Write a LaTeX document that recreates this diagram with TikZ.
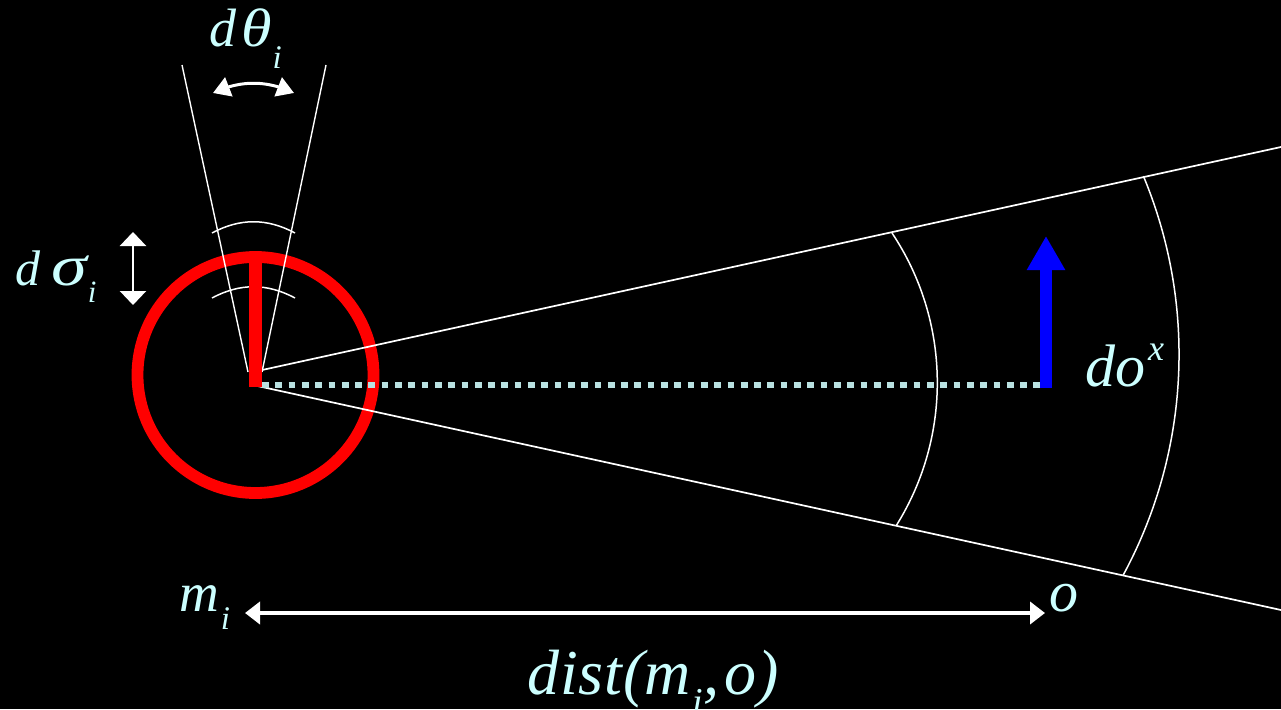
\documentclass[tikz,border=0pt]{standalone}
\usepackage{fontspec}
\setmainfont{Liberation Serif}
\usepackage{graphicx}
\usetikzlibrary{arrows.meta,bending}
\definecolor{txt}{RGB}{204,255,255}
\definecolor{dotc}{RGB}{185,225,225}
\definecolor{ringred}{RGB}{255,0,0}
\definecolor{vecblue}{RGB}{0,0,255}
\newcommand{\sbi}[3]{\raisebox{#1}{\fontsize{#2}{#2}\selectfont #3}}
\begin{document}
\begin{tikzpicture}[x=1pt,y=-1pt,
  lbl/.style={text=txt, inner sep=0pt, anchor=base west},
  fanline/.style={draw=white, line width=1.7pt},
  thinline/.style={draw=white, line width=1.4pt},
  arcline/.style={draw=white, line width=1.5pt},
  ring/.style={draw=ringred, line width=11.8pt},
  bar/.style={draw=ringred, line width=12.7pt},
  dots/.style={draw=dotc, line width=6.7pt, dash pattern=on 6.7pt off 6.6pt},
  vec/.style={draw=vecblue, line width=12pt, -{Triangle[length=34pt,width=36pt]}},
  dimarrow/.style={draw=white, line width=4pt, {Triangle[length=15pt,width=22pt]}-{Triangle[length=15pt,width=22pt]}},
  sigarrow/.style={draw=white, line width=2.5pt, {Triangle[length=14pt,width=26pt]}-{Triangle[length=14pt,width=26pt]}},
  thetarrow/.style={draw=white, line width=3pt, {Triangle[length=17pt,width=20pt]}-{Triangle[length=17pt,width=20pt]}}
]
\fill[black] (0,0) rectangle (1281,709);
\useasboundingbox (0,0) rectangle (1281,709);

% coordinates
\coordinate (C) at (255.5,375);
\coordinate (apexU) at (253,372);
\coordinate (apexL) at (253,385);
\coordinate (farU) at (1281,147);
\coordinate (farL) at (1281,610);
\coordinate (topL) at (182,65);
\coordinate (topR) at (326,65);
\coordinate (baseL) at (248,372);
\coordinate (baseR) at (262,372);
\coordinate (barTop) at (255.3,257);
\coordinate (barBot) at (255.3,387.3);
\coordinate (dotS) at (262,385);
\coordinate (dotE) at (1040,385);
\coordinate (vecS) at (1046,388);
\coordinate (vecE) at (1046,236);
\coordinate (ia1) at (892,233.0);
\coordinate (oa1) at (1143.4,176.1);
\coordinate (sa1) at (212,233);
\coordinate (sa2) at (295,233);
\coordinate (sb1) at (212,298);
\coordinate (sb2) at (295,298);
\coordinate (th1) at (213,93);
\coordinate (th2) at (294,93);
\coordinate (sg1) at (133,232);
\coordinate (sg2) at (133,305);
\coordinate (dm1) at (245,613);
\coordinate (dm2) at (1045,613);

% red circle
\draw[ring] (C) circle[radius=118];

% fan to the right
\draw[fanline] (apexU) -- (farU);
\draw[fanline] (apexL) -- (farL);
\draw[arcline] (ia1) arc[start angle=-33.7, end angle=31.9, radius=269.6];
\draw[arcline] (oa1) arc[start angle=-22.6, end angle=28.4, radius=464];

% narrow fan upwards
\draw[thinline] (topL) -- (baseL);
\draw[thinline] (topR) -- (baseR);
\draw[arcline] (sa1) .. controls (240,218) and (267,218) .. (sa2);
\draw[arcline] (sb1) .. controls (240,283) and (267,283) .. (sb2);

% red bar
\draw[bar] (barTop) -- (barBot);

% dotted line and blue vector
\draw[dots] (dotS) -- (dotE);
\draw[vec] (vecS) -- (vecE);

% arrows
\draw[thetarrow] (th1) .. controls (240,80) and (267,80) .. (th2);
\draw[sigarrow] (sg1) -- (sg2);
\draw[dimarrow] (dm1) -- (dm2);

% labels
\node[lbl, font=\fontsize{54}{54}\selectfont\itshape] (dtheta) at (209,47) {d\kern5pt\scalebox{1.15}[1]{θ}\kern1pt\sbi{-21pt}{33}{i}};
\node[lbl, font=\fontsize{50}{50}\selectfont\itshape] (dsigma) at (15,285) {d\kern11pt\scalebox{1.45}[1.15]{σ}\kern1pt\sbi{-17pt}{31}{i}};
\node[lbl, font=\fontsize{60}{60}\selectfont\itshape] (dox) at (1085,386) {do\kern3pt\sbi{26pt}{36}{x}};
\node[lbl, font=\fontsize{55}{55}\selectfont\itshape] (mi) at (179,611) {m\kern2pt\sbi{-18pt}{33}{i}};
\node[lbl, font=\fontsize{58}{58}\selectfont\itshape] (o) at (1049,611) {o};
\node[lbl, font=\fontsize{64}{64}\selectfont\itshape] (dist) at (527,694) {d\kern1pt i\kern1pt s\kern1pt t\kern1pt(m\kern1pt\sbi{-20pt}{38}{i}\kern1pt,\kern5pt o\kern1pt)};
\end{tikzpicture}
\end{document}
